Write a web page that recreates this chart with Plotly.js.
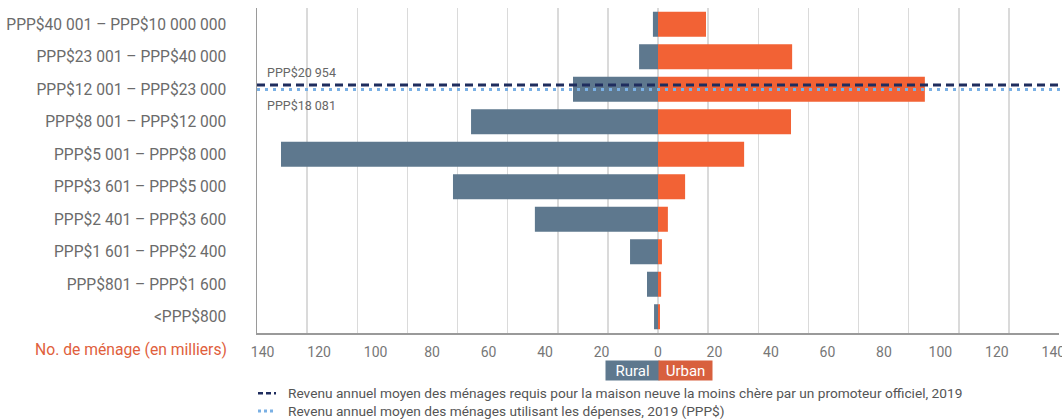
<!DOCTYPE html>
<html>
<head>
<meta charset="utf-8">
<script src="https://cdn.plot.ly/plotly-3.0.1.min.js"></script>
<style>html,body{margin:0;padding:0;background:#fff;}#chart{width:1062px;height:420px;}</style>
</head>
<body>
<div id="chart"></div>
<script>
// Income bands (bottom to top)
const categories = [
  "<PPP$800",
  "PPP$801 – PPP$1 600",
  "PPP$1 601 – PPP$2 400",
  "PPP$2 401 – PPP$3 600",
  "PPP$3 601 – PPP$5 000",
  "PPP$5 001 – PPP$8 000",
  "PPP$8 001 – PPP$12 000",
  "PPP$12 001 – PPP$23 000",
  "PPP$23 001 – PPP$40 000",
  "PPP$40 001 – PPP$10 000 000"
];
// Households (thousands)
const ruralValues = [1.4, 3.9, 9.9, 43.6, 72.6, 133.5, 66.2, 30.1, 6.7, 1.8];
const urbanValues = [0.7, 1.1, 1.4, 3.5, 9.6, 30.5, 47.1, 94.5, 47.5, 17.0];

const xTickVals = [-140,-120,-100,-80,-60,-40,-20,0,20,40,60,80,100,120,140];
const xTickText = ["140","120","100","80","60","40","20","0","20","40","60","80","100","120","140"];

const refLabels = ["PPP$20 954", "PPP$18 081"];
const legendTexts = [
  "Revenu annuel moyen des ménages requis pour la maison neuve la moins chère par un promoteur officiel, 2019",
  "Revenu annuel moyen des ménages utilisant les dépenses, 2019 (PPP$)"
];
const seriesNames = ["Rural", "Urban"];
const axisLabel = "No. de ménage (en milliers)";

const FONT = "Roboto, 'Liberation Sans', sans-serif";
const RURAL = "#5e788e", URBAN = "#f26235", URBAN_LEG = "#d8603e";
const NAVY = "#1f2d5e", LIGHT = "#7ab0e4";
const PW = 802; // plot width in px

const traces = [
  {type:"bar", orientation:"h", name:seriesNames[0], y:categories,
   x:ruralValues.map(v => -v), marker:{color:RURAL}, hoverinfo:"skip"},
  {type:"bar", orientation:"h", name:seriesNames[1], y:categories,
   x:urbanValues, marker:{color:URBAN}, hoverinfo:"skip"},
  {type:"scatter", mode:"none", x:[-142,142], y:[categories[0],categories[0]],
   xaxis:"x2", yaxis:"y", hoverinfo:"skip", showlegend:false}
];

const layout = {
  width:1062, height:420,
  margin:{l:257, r:3, t:8, b:87},
  paper_bgcolor:"#fff", plot_bgcolor:"#fff",
  barmode:"relative", bargap:0.23,
  showlegend:false,
  font:{family:FONT, color:"#6b6b6b"},
  xaxis:{
    range:[-142,142], tickvals:xTickVals, ticktext:xTickText,
    showgrid:false, zeroline:false,
    showline:true, linecolor:"#9a9a9a", linewidth:1.5,
    ticks:"outside", ticklen:6, tickcolor:"rgba(0,0,0,0)",
    ticklabeloverflow:"allow",
    tickfont:{size:14, color:"#777", family:FONT}, fixedrange:true
  },
  xaxis2:{
    range:[-142,142], overlaying:"x", anchor:"y", side:"bottom",
    tick0:0, dtick:17.75, showgrid:true, gridcolor:"#dadada", gridwidth:1.5,
    showticklabels:false, ticks:"", zeroline:false, showline:false, fixedrange:true
  },
  yaxis:{
    type:"category", categoryorder:"array", categoryarray:categories,
    range:[-0.5, 9.5],
    showgrid:false, zeroline:false,
    showline:true, linecolor:"#9a9a9a", linewidth:1.5,
    ticks:"outside", ticklen:26, tickcolor:"rgba(0,0,0,0)",
    tickfont:{size:15.6, color:"#6b6b6b", family:FONT}, fixedrange:true
  },
  shapes:[
    {type:"line", xref:"paper", yref:"y", x0:0, x1:1.01, y0:7.13, y1:7.13,
     line:{color:NAVY, width:3, dash:"8px,5px"}},
    {type:"line", xref:"paper", yref:"y", x0:0, x1:1.01, y0:6.99, y1:6.99,
     line:{color:LIGHT, width:3, dash:"3px,5px"}},
    {type:"line", xref:"paper", yref:"paper", x0:1/PW, x1:19/PW, y0:-0.185, y1:-0.185,
     line:{color:NAVY, width:2.5, dash:"5px,3px"}},
    {type:"line", xref:"paper", yref:"paper", x0:1/PW, x1:19/PW, y0:-0.24, y1:-0.24,
     line:{color:LIGHT, width:3, dash:"3px,3px"}}
  ],
  annotations:[
    {xref:"paper", yref:"y", x:8/PW, y:7.52, xanchor:"left", yanchor:"middle",
     text:refLabels[0], showarrow:false, font:{size:12.5, color:"#666", family:FONT}},
    {xref:"paper", yref:"y", x:8/PW, y:6.5, xanchor:"left", yanchor:"middle",
     text:refLabels[1], showarrow:false, font:{size:12.5, color:"#666", family:FONT}},
    {xref:"paper", yref:"paper", x:-28/PW, y:-0.052, xanchor:"right", yanchor:"middle",
     text:axisLabel, showarrow:false, font:{size:15.7, color:"#e0603c", family:FONT}},
    {xref:"paper", yref:"paper", x:(632.5-257)/PW, y:-0.116, xanchor:"center", yanchor:"middle",
     text:seriesNames[0], showarrow:false, bgcolor:RURAL, width:53, height:19, borderpad:0,
     font:{size:15, color:"#fff", family:FONT}},
    {xref:"paper", yref:"paper", x:(685.5-257)/PW, y:-0.116, xanchor:"center", yanchor:"middle",
     text:seriesNames[1], showarrow:false, bgcolor:URBAN_LEG, width:53, height:19, borderpad:0,
     font:{size:15, color:"#fff", family:FONT}},
    {xref:"paper", yref:"paper", x:29/PW, y:-0.185, xanchor:"left", yanchor:"middle",
     text:legendTexts[0], showarrow:false, font:{size:13.7, color:"#555", family:FONT}},
    {xref:"paper", yref:"paper", x:29/PW, y:-0.24, xanchor:"left", yanchor:"middle",
     text:legendTexts[1], showarrow:false, font:{size:13.7, color:"#555", family:FONT}}
  ]
};

Plotly.newPlot("chart", traces, layout, {displayModeBar:false, staticPlot:true});
</script>
</body>
</html>
